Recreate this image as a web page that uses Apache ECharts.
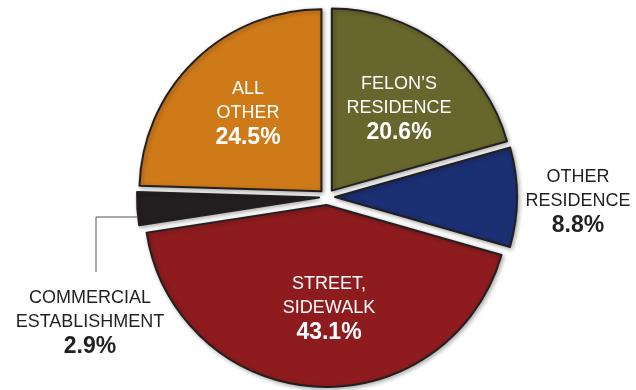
<!DOCTYPE html>
<html>
<head>
<meta charset="utf-8">
<style>
  html, body { margin: 0; padding: 0; background: #ffffff; }
  #chart { width: 636px; height: 390px; }
</style>
<script src="https://cdn.jsdelivr.net/npm/echarts@6/dist/echarts.min.js"></script>
</head>
<body>
<div id="chart"></div>
<script>
// Where felony incidents took place (share of all incidents, %)
const categories = ["FELON\u2019S\nRESIDENCE", "OTHER\nRESIDENCE", "STREET,\nSIDEWALK", "COMMERCIAL\nESTABLISHMENT", "ALL\nOTHER"];
const shares = [20.6, 8.8, 43.1, 2.9, 24.5];
const sliceColors = ["#67662d", "#1b2f73", "#8e1b1e", "#231f20", "#cf7a19"];
const labelOnSlice = [true, false, true, false, true];

const CENTER = [327, 197];
const RADIUS = 182;
const FONT = "'Liberation Sans', Arial, Helvetica, sans-serif";

// Centre of each label block, and the elbow leader for the thin slice
const labelPlacement = [
  { x: 399, y: 109 },
  { x: 578, y: 202 },
  { x: 329, y: 309 },
  { x: 90, y: 323, line: [[138, 217], [96, 217], [96, 272]] },
  { x: 248, y: 114 }
];

const chart = echarts.init(document.getElementById('chart'), null, { renderer: 'canvas' });

function labelText(p) {
  const lines = p.name.split('\n').map(s => '{n|' + s + '}');
  lines.push('{p|' + p.value.toFixed(1) + '%}');
  return lines.join('\n');
}

function richFor(color) {
  return {
    n: { fontFamily: FONT, fontSize: 18, color: color, lineHeight: 24, align: 'center' },
    p: { fontFamily: FONT, fontSize: 23, fontWeight: 'bold', color: color, lineHeight: 25, align: 'center' }
  };
}

// Exploded slices
const sliceData = categories.map((name, i) => ({
  name: name,
  value: shares[i],
  selected: true,
  itemStyle: { color: sliceColors[i] }
}));

// Same values again, unexploded and invisible, carrying the labels
const labelData = categories.map((name, i) => ({
  name: name,
  value: shares[i],
  label: {
    show: true,
    position: labelOnSlice[i] ? 'inside' : 'outside',
    formatter: labelText,
    rich: richFor(labelOnSlice[i] ? '#ffffff' : '#231f20')
  },
  labelLine: i === 3
    ? { show: true, lineStyle: { color: '#555555', width: 1 } }
    : { show: false }
}));

chart.setOption({
  animation: false,
  backgroundColor: '#ffffff',
  series: [{
    type: 'pie',
    center: CENTER,
    radius: [0, RADIUS],
    startAngle: 90,
    clockwise: true,
    selectedMode: 'multiple',
    selectedOffset: 8,
    silent: true,
    label: { show: false },
    labelLine: { show: false },
    emphasis: { disabled: true },
    itemStyle: {
      borderColor: '#231f20',
      borderWidth: 2,
      shadowBlur: 4,
      shadowOffsetX: 1.5,
      shadowOffsetY: 1.5,
      shadowColor: 'rgba(0,0,0,0.3)'
    },
    data: sliceData
  }, {
    type: 'pie',
    center: CENTER,
    radius: [0, RADIUS],
    startAngle: 90,
    clockwise: true,
    selectedMode: false,
    silent: true,
    z: 5,
    avoidLabelOverlap: false,
    emphasis: { disabled: true },
    itemStyle: { color: 'rgba(0,0,0,0)', borderWidth: 0 },
    labelLayout: function (params) {
      const place = labelPlacement[params.dataIndex];
      const out = { x: place.x, y: place.y, align: 'center', verticalAlign: 'middle' };
      if (place.line) out.labelLinePoints = place.line;
      return out;
    },
    data: labelData
  }]
});
</script>
</body>
</html>
